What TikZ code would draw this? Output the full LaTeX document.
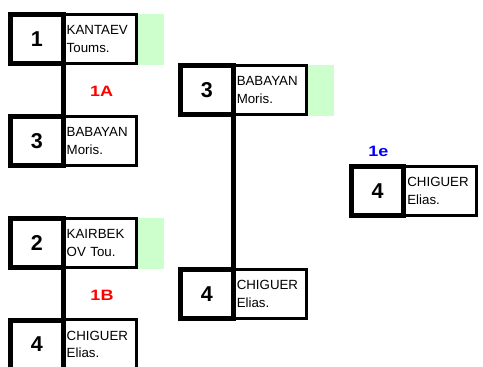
\documentclass[tikz,border=0pt]{standalone}
\usepackage{fontspec}
\usepackage{graphicx}
\setmainfont{Liberation Sans}
\definecolor{cellgreen}{RGB}{204,255,204}
\definecolor{labred}{RGB}{255,0,0}
\definecolor{labblue}{RGB}{0,0,255}
\newcommand{\widelab}[1]{\scalebox{1.2}[1]{#1}}
\tikzset{
  numbox/.style={draw, line width=5pt, minimum width=52.7pt, minimum height=49pt,
    inner sep=0pt, outer sep=0pt, font=\fontsize{21.5}{24}\selectfont\bfseries},
  namebox/.style={draw, line width=3pt, minimum width=73pt, minimum height=49.5pt,
    inner sep=0pt, outer sep=0pt, text width=66pt, align=left, anchor=west,
    font=\fontsize{13.3}{17.5}\selectfont},
  greencell/.style={fill=cellgreen, minimum width=26pt, minimum height=51pt,
    inner sep=0pt, outer sep=0pt, anchor=west},
  link/.style={line width=5pt},
  roundlab/.style={font=\fontsize{15}{17}\selectfont\bfseries}
}
\begin{document}
\begin{tikzpicture}[x=1pt,y=-1pt]
\clip (0,0) rectangle (483,367);
\useasboundingbox (0,0) rectangle (483,367);
\fill[white] (0,0) rectangle (483,367);

% Round 1, match 1A
\node[namebox] (An) at (63.25,39) {KANTAEV\\Toums.};
\node[greencell] (Ag) at ([xshift=1.5pt]An.east) {};
\node[numbox] (A) at (36.9,39) {1};
\node[namebox] (Bn) at (63.25,141) {BABAYAN\\Moris.};
\node[numbox] (B) at (36.9,141) {3};
\draw[link] (A.south east) -- (B.north east);
\node[roundlab, text=labred] (L1A) at (101.7,91) {\widelab{1A}};

% Round 1, match 1B
\node[namebox] (Cn) at (63.25,243) {KAIRBEK\\OV Tou.};
\node[greencell] (Cg) at ([xshift=1.5pt]Cn.east) {};
\node[numbox] (C) at (36.9,243) {2};
\node[namebox] (Dn) at (63.25,344.5) {CHIGUER\\Elias.};
\node[numbox] (D) at (36.9,344.5) {4};
\draw[link] (C.south east) -- (D.north east);
\node[roundlab, text=labred] (L1B) at (102,295) {\widelab{1B}};

% Round 2
\node[namebox] (En) at (233.25,90) {BABAYAN\\Moris.};
\node[greencell] (Eg) at ([xshift=1.5pt]En.east) {};
\node[numbox] (E) at (206.9,90) {3};
\node[namebox] (Fn) at (233.25,294) {CHIGUER\\Elias.};
\node[numbox] (F) at (206.9,294) {4};
\draw[link] (E.south east) -- (F.north east);

% Final
\node[roundlab, text=labblue] (L1e) at (378.5,151) {\widelab{1e}};
\node[namebox] (Gn) at (403.85,190.8) {CHIGUER\\Elias.};
\node[numbox] (G) at (377.5,190.8) {4};
\end{tikzpicture}
\end{document}
